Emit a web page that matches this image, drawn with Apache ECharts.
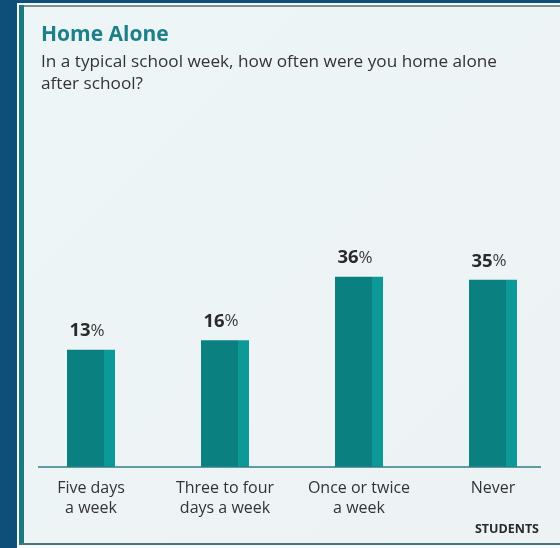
<!DOCTYPE html>
<html>
<head>
<meta charset="utf-8">
<script src="https://cdn.jsdelivr.net/npm/echarts@6/dist/echarts.min.js"></script>
<style>
html,body{margin:0;padding:0;background:#0d4f78;}
#chart{width:560px;height:548px;}
</style>
</head>
<body>
<div id="chart"></div>
<script>
const titleText = 'Home Alone';
const subtitleText = 'In a typical school week, how often were you home alone\nafter school?';
const categories = ['Five days\na week', 'Three to four\ndays a week', 'Once or twice\na week', 'Never'];
const percentValues = [13, 16, 36, 35];
const sourceNote = 'STUDENTS';
const axisMin = -24;
const axisMax = 40;

const chart = echarts.init(document.getElementById('chart'), null, {renderer: 'canvas'});
const FONT = '"Open Sans", "Noto Sans", sans-serif';

const barColor = new echarts.graphic.LinearGradient(0, 0, 1, 0, [
  {offset: 0, color: '#0a8080'},
  {offset: 0.77, color: '#0a8080'},
  {offset: 0.77, color: '#0e9999'},
  {offset: 1, color: '#0e9999'}
]);

const panelBg = new echarts.graphic.LinearGradient(0, 0, 1, 1, [
  {offset: 0, color: '#eef5f7'},
  {offset: 1, color: '#edf3f5'}
]);

const option = {
  backgroundColor: '#0d4f78',
  animation: false,
  title: [
    {
      text: titleText,
      subtext: subtitleText,
      left: 36,
      top: 20,
      itemGap: 5,
      textStyle: {fontFamily: FONT, fontSize: 21, fontWeight: 'bold', color: '#1d8088'},
      subtextStyle: {fontFamily: FONT, fontSize: 17.2, color: '#333333', lineHeight: 22}
    },
    {
      text: sourceNote,
      right: 16,
      bottom: 7,
      textStyle: {fontFamily: FONT, fontSize: 12.5, fontWeight: 'bold', color: '#2a2a2a'}
    }
  ],
  grid: {left: 24, right: 0, top: 264, bottom: 81, containLabel: false},
  xAxis: {
    type: 'category',
    data: categories,
    axisLine: {show: false},
    axisTick: {show: false},
    axisLabel: {
      interval: 0,
      margin: 11,
      fontFamily: FONT,
      fontSize: 16,
      lineHeight: 20,
      color: '#333333'
    }
  },
  yAxis: {
    type: 'value',
    min: axisMin,
    max: axisMax,
    startValue: axisMin,
    show: false,
    splitLine: {show: false}
  },
  series: [{
    type: 'bar',
    data: percentValues,
    barWidth: 48,
    itemStyle: {color: barColor},
    label: {
      show: true,
      position: 'top',
      distance: 9,
      offset: [-4, 0],
      formatter: p => '{a|' + p.value + '}{b|%}',
      rich: {
        a: {fontFamily: FONT, fontSize: 18.5, fontWeight: 'bold', color: '#2a2a2a'},
        b: {fontFamily: FONT, fontSize: 17, color: '#3a3a3a'}
      }
    }
  }]
};

chart.setOption(option);

const baseY = chart.convertToPixel({yAxisIndex: 0}, axisMin);

chart.setOption({
  graphic: [
    {type: 'rect', z: -10, silent: true, shape: {x: 17, y: 3, width: 543, height: 545}, style: {fill: '#f6f9fa'}},
    {type: 'rect', z: -9, silent: true, shape: {x: 19, y: 5, width: 541, height: 540}, style: {fill: panelBg}},
    {type: 'rect', z: -8, silent: true, shape: {x: 19, y: 5, width: 5, height: 540}, style: {fill: '#1b7a7d'}},
    {type: 'rect', z: -8, silent: true, shape: {x: 24, y: 5, width: 536, height: 2}, style: {fill: '#7f9092'}},
    {type: 'rect', z: -8, silent: true, shape: {x: 19, y: 543, width: 541, height: 2}, style: {fill: '#4a7578'}},
    {type: 'line', z: 10, silent: true, shape: {x1: 38, y1: baseY, x2: 541, y2: baseY}, style: {stroke: '#2c8086', lineWidth: 1.5}}
  ]
});
</script>
</body>
</html>
